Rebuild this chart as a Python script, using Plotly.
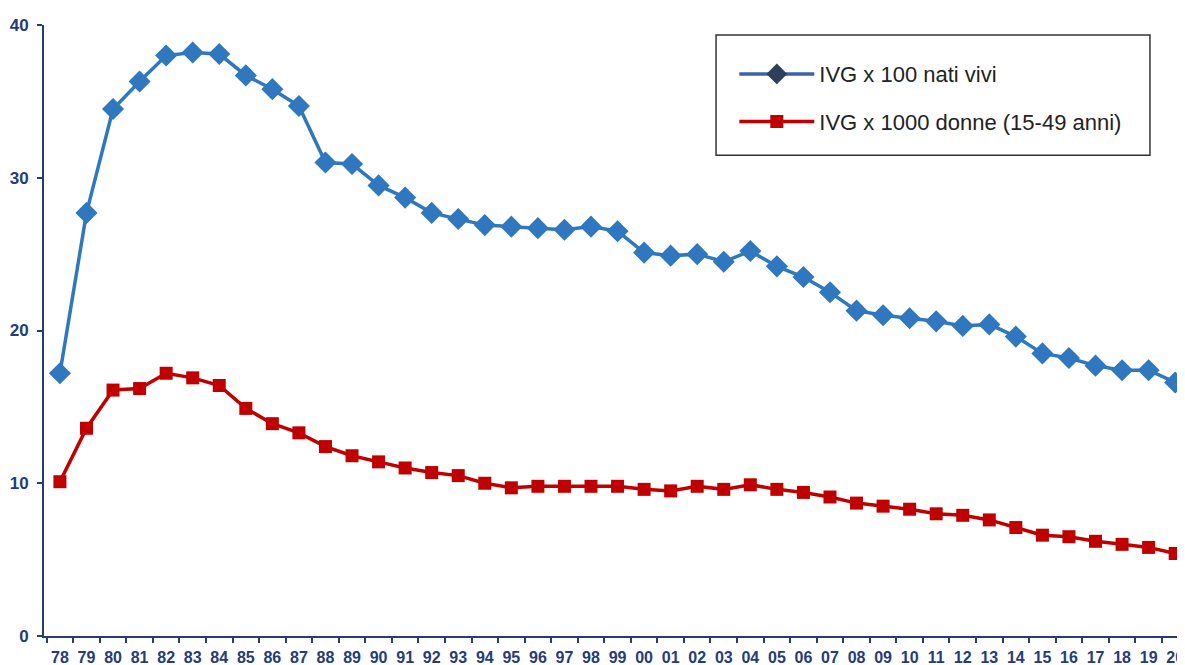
import plotly.graph_objects as go

# Colours
BLUE = "#2f77be"
BLUE_LEGEND = "#2e3f5c"
RED = "#c00000"
NAVY = "#253c78"
TEXT = "#222222"

years = ["78", "79", "80", "81", "82", "83", "84", "85", "86", "87", "88", "89",
         "90", "91", "92", "93", "94", "95", "96", "97", "98", "99", "00", "01",
         "02", "03", "04", "05", "06", "07", "08", "09", "10", "11", "12", "13",
         "14", "15", "16", "17", "18", "19", "20"]

ivg_nati = [17.2, 27.7, 34.5, 36.3, 38.0, 38.2, 38.1, 36.7, 35.8, 34.7, 31.0, 30.9,
            29.5, 28.7, 27.7, 27.3, 26.9, 26.8, 26.7, 26.6, 26.8, 26.5, 25.1, 24.9,
            25.0, 24.5, 25.2, 24.2, 23.5, 22.5, 21.3, 21.0, 20.8, 20.6, 20.3, 20.4,
            19.6, 18.5, 18.2, 17.7, 17.4, 17.4, 16.6]

ivg_donne = [10.1, 13.6, 16.1, 16.2, 17.2, 16.9, 16.4, 14.9, 13.9, 13.3, 12.4, 11.8,
             11.4, 11.0, 10.7, 10.5, 10.0, 9.7, 9.8, 9.8, 9.8, 9.8, 9.6, 9.5,
             9.8, 9.6, 9.9, 9.6, 9.4, 9.1, 8.7, 8.5, 8.3, 8.0, 7.9, 7.6,
             7.1, 6.6, 6.5, 6.2, 6.0, 5.8, 5.4]

y_ticks = [0, 10, 20, 30, 40]

fig = go.Figure()

fig.add_trace(go.Scatter(
    x=years, y=ivg_nati, mode="lines+markers", showlegend=False,
    line=dict(color=BLUE, width=3.5),
    marker=dict(symbol="diamond", size=17, color=BLUE),
    cliponaxis=False,
))
fig.add_trace(go.Scatter(
    x=years, y=ivg_donne, mode="lines+markers", showlegend=False,
    line=dict(color=RED, width=3.5),
    marker=dict(symbol="square", size=13, color=RED),
    cliponaxis=False,
))

# legend-only entries (the legend diamond is darker than the plotted one)
fig.add_trace(go.Scatter(
    x=[None], y=[None], mode="lines+markers", name="IVG x 100 nati vivi",
    legendgroup="a",
    line=dict(color="#3a64a8", width=3.5),
    marker=dict(symbol="diamond", size=16, color=BLUE_LEGEND),
))
fig.add_trace(go.Scatter(
    x=[None], y=[None], mode="lines+markers", name="IVG x 1000 donne (15-49 anni)",
    legendgroup="b",
    line=dict(color=RED, width=3.5),
    marker=dict(symbol="square", size=13, color=RED),
))

fig.update_layout(
    width=1177, height=657,
    paper_bgcolor="white", plot_bgcolor="white",
    margin=dict(l=36, r=0, t=17, b=29, autoexpand=False),
    font=dict(family="Liberation Sans, Arial, sans-serif", color=TEXT),
    xaxis=dict(
        type="category", categoryorder="array", categoryarray=years,
        range=[-0.6, 42.37], tickson="boundaries", tickangle=0,
        showline=True, linecolor=NAVY, linewidth=2,
        ticks="outside", ticklen=5, tickcolor=NAVY, tickwidth=1.5,
        showgrid=False, zeroline=False, ticklabelstandoff=6,
        tickfont=dict(size=16, color=NAVY, weight="bold"),
        automargin=False,
    ),
    yaxis=dict(
        range=[0, 40], tickvals=y_ticks,
        showline=True, linecolor=NAVY, linewidth=2,
        ticks="outside", ticklen=5, tickcolor=NAVY, tickwidth=1.5,
        showgrid=False, zeroline=False, ticklabelstandoff=5,
        tickfont=dict(size=17, color=NAVY, weight="bold"),
        automargin=False,
    ),
    legend=dict(
        x=0.605, y=0.954, xanchor="left", yanchor="top",
        bgcolor="rgba(0,0,0,0)", borderwidth=0,
        font=dict(size=22, color=TEXT),
        itemwidth=75, tracegroupgap=16,
    ),
    shapes=[dict(
        type="rect", xref="paper", yref="paper",
        x0=0.589, x1=0.9693, y0=0.787, y1=0.9836,
        line=dict(color="#333333", width=1.5), fillcolor="rgba(0,0,0,0)",
    )],
)

fig.write_html("out.html")
